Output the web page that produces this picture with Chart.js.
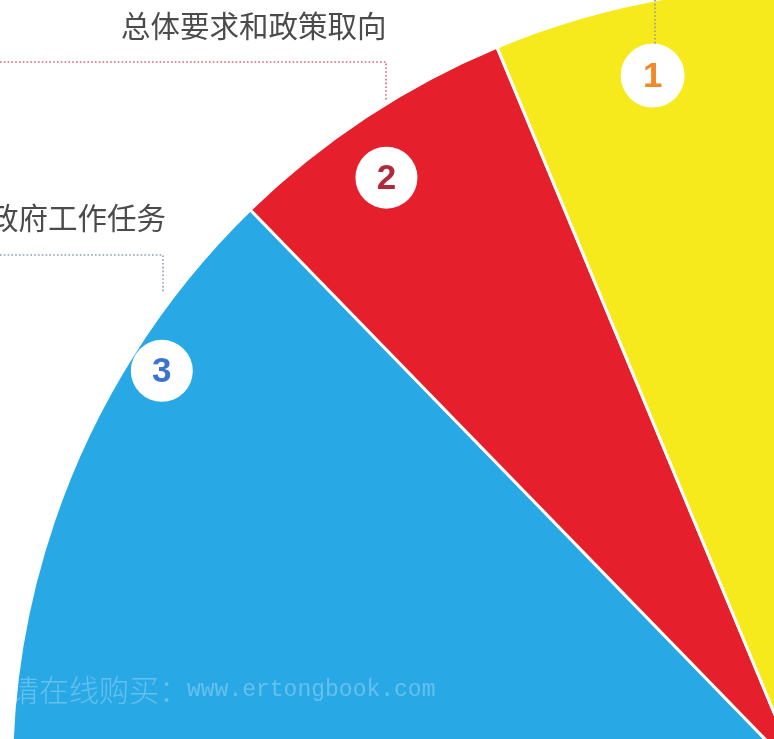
<!DOCTYPE html>
<html>
<head>
<meta charset="utf-8">
<script src="https://cdn.jsdelivr.net/npm/chart.js@4.4.1/dist/chart.umd.min.js"></script>
<style>
html,body{margin:0;padding:0;width:774px;height:739px;overflow:hidden;background:#ffffff;}
#wrap{position:absolute;left:-40px;top:-40px;}
</style>
</head>
<body>
<div id="wrap"><canvas id="c" width="1630" height="1605"></canvas></div>
<script>
// ---- data (slices listed in clockwise drawing order) ----
const categories   = ['3', '2', '1'];
const sliceNames   = ['政府工作任务', '总体要求和政策取向', '过去一年工作回顾'];
const shares       = [65, 6, 29];
const sliceColors  = ['#29a8e6', '#e61f2c', '#f6ea1c'];
const numberColors = ['#3b74cf', '#b02a3a', '#ef8a2a'];

const PAGE_OFFSET = 40; // canvas is shifted by -40,-40 on the page

const overlay = {
  id: 'overlay',
  afterDatasetsDraw(chart, args, opts) {
    const ctx = chart.ctx;
    const meta = chart.getDatasetMeta(0);
    ctx.save();
    // number badges placed inside their slices
    meta.data.forEach((arc, i) => {
      const p = arc.getProps(['x', 'y', 'startAngle', 'endAngle', 'outerRadius'], true);
      const b = opts.badges[i];
      const a = p.startAngle + b.frac * (p.endAngle - p.startAngle);
      const r = p.outerRadius * b.r;
      const x = p.x + Math.cos(a) * r;
      const y = p.y + Math.sin(a) * r;
      ctx.beginPath();
      ctx.arc(x, y, b.size, 0, Math.PI * 2);
      ctx.fillStyle = '#ffffff';
      ctx.fill();
      ctx.fillStyle = numberColors[i];
      ctx.font = 'bold 35px "Liberation Sans", Arial, sans-serif';
      ctx.textAlign = 'center';
      ctx.textBaseline = 'middle';
      ctx.fillText(categories[i], x, y + 1.5);
    });

    // callouts in page coordinates
    ctx.translate(PAGE_OFFSET, PAGE_OFFSET);
    opts.leaders.forEach(l => {
      ctx.beginPath();
      ctx.setLineDash([1.6, 2.2]);
      ctx.lineWidth = 1.6;
      ctx.strokeStyle = l.color;
      l.pts.forEach((pt, k) => k ? ctx.lineTo(pt[0], pt[1]) : ctx.moveTo(pt[0], pt[1]));
      ctx.stroke();
    });
    ctx.setLineDash([]);
    ctx.fillStyle = '#4b4b4b';
    ctx.font = '29.5px "Noto Sans CJK SC", sans-serif';
    ctx.textBaseline = 'middle';
    opts.labels.forEach(l => {
      ctx.textAlign = l.align;
      ctx.fillText(sliceNames[l.slice], l.x, l.y);
    });

    // faint watermark
    ctx.fillStyle = 'rgba(255,255,255,0.28)';
    ctx.textAlign = 'left';
    ctx.font = '300 30px "Noto Sans CJK SC", sans-serif';
    ctx.fillText('本请在线购买：', -21, 690);
    ctx.font = '23px "Liberation Mono", monospace';
    ctx.fillText('www.ertongbook.com', 187, 690);
    ctx.restore();
  }
};

new Chart(document.getElementById('c'), {
  type: 'pie',
  data: {
    labels: categories,
    datasets: [{
      data: shares,
      backgroundColor: sliceColors,
      borderColor: '#ffffff',
      borderWidth: 3,
      hoverBorderWidth: 3,
      offset: 0,
      hoverOffset: 0
    }]
  },
  options: {
    responsive: false,
    devicePixelRatio: 1,
    animation: false,
    events: [],
    rotation: 81.8,
    layout: { padding: { left: 50, top: 25, right: 0, bottom: 0 } },
    plugins: {
      legend: { display: false },
      tooltip: { enabled: false },
      overlay: {
        badges: [
          { frac: 0.9425, r: 0.958, size: 31 },
          { frac: 0.44,   r: 0.9214, size: 31 },
          { frac: 0.1025, r: 0.9065, size: 32 }
        ],
        leaders: [
          { color: '#d2647a', pts: [[0, 62], [386, 62], [386, 101]] },
          { color: '#8c9db3', pts: [[0, 255], [163, 255], [163, 292]] },
          { color: '#9a9a9a', pts: [[655, 0], [655, 44]] }
        ],
        labels: [
          { slice: 1, x: 121, y: 25.5, align: 'left' },
          { slice: 0, x: 166, y: 218, align: 'right' }
        ]
      }
    }
  },
  plugins: [overlay]
});
</script>
</body>
</html>
